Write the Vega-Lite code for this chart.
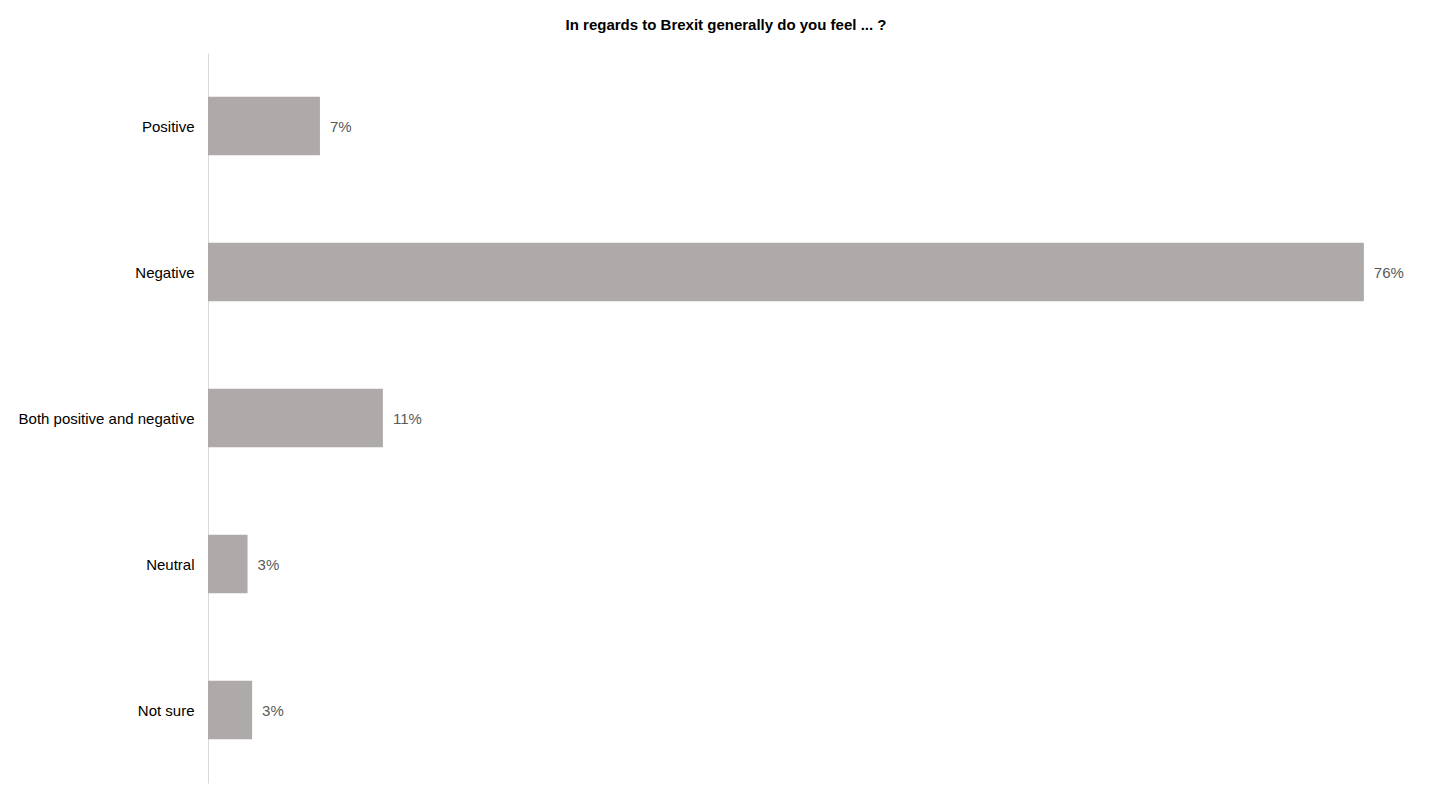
{
  "$schema": "https://vega.github.io/schema/vega-lite/v6.json",
  "autosize": {"type": "none"},
  "padding": {"left": 208, "top": 53, "right": 2, "bottom": 12},
  "width": 1238,
  "height": 730,
  "background": "white",
  "title": {
    "text": "In regards to Brexit generally do you feel ... ?",
    "font": "Liberation Sans",
    "fontSize": 15,
    "fontWeight": "bold",
    "color": "#000000",
    "anchor": "middle",
    "dx": -101,
    "offset": 20
  },
  "data": {
    "values": [
      {"answer": "Positive", "value": 7.36, "label": "7%"},
      {"answer": "Negative", "value": 76.0, "label": "76%"},
      {"answer": "Both positive and negative", "value": 11.5, "label": "11%"},
      {"answer": "Neutral", "value": 2.6, "label": "3%"},
      {"answer": "Not sure", "value": 2.9, "label": "3%"}
    ]
  },
  "encoding": {
    "y": {
      "field": "answer",
      "type": "nominal",
      "sort": null,
      "title": null,
      "scale": {"paddingInner": 0.6, "paddingOuter": 0.3},
      "axis": {
        "labelFont": "Liberation Sans",
        "labelFontSize": 15,
        "labelColor": "#000000",
        "labelPadding": 14,
        "labelOffset": 1,
        "ticks": false,
        "domainColor": "#d9d9d9",
        "domainWidth": 1,
        "grid": false
      }
    },
    "x": {
      "field": "value",
      "type": "quantitative",
      "scale": {"domain": [0, 81.4], "nice": false, "zero": true},
      "axis": null
    }
  },
  "layer": [
    {"mark": {"type": "bar", "color": "#aeaaa9"}},
    {
      "mark": {
        "type": "text",
        "align": "left",
        "baseline": "middle",
        "dx": 10,
        "dy": 1,
        "font": "Liberation Sans",
        "fontSize": 15,
        "color": "#595959"
      },
      "encoding": {"text": {"field": "label"}}
    }
  ],
  "config": {"view": {"stroke": null}}
}
